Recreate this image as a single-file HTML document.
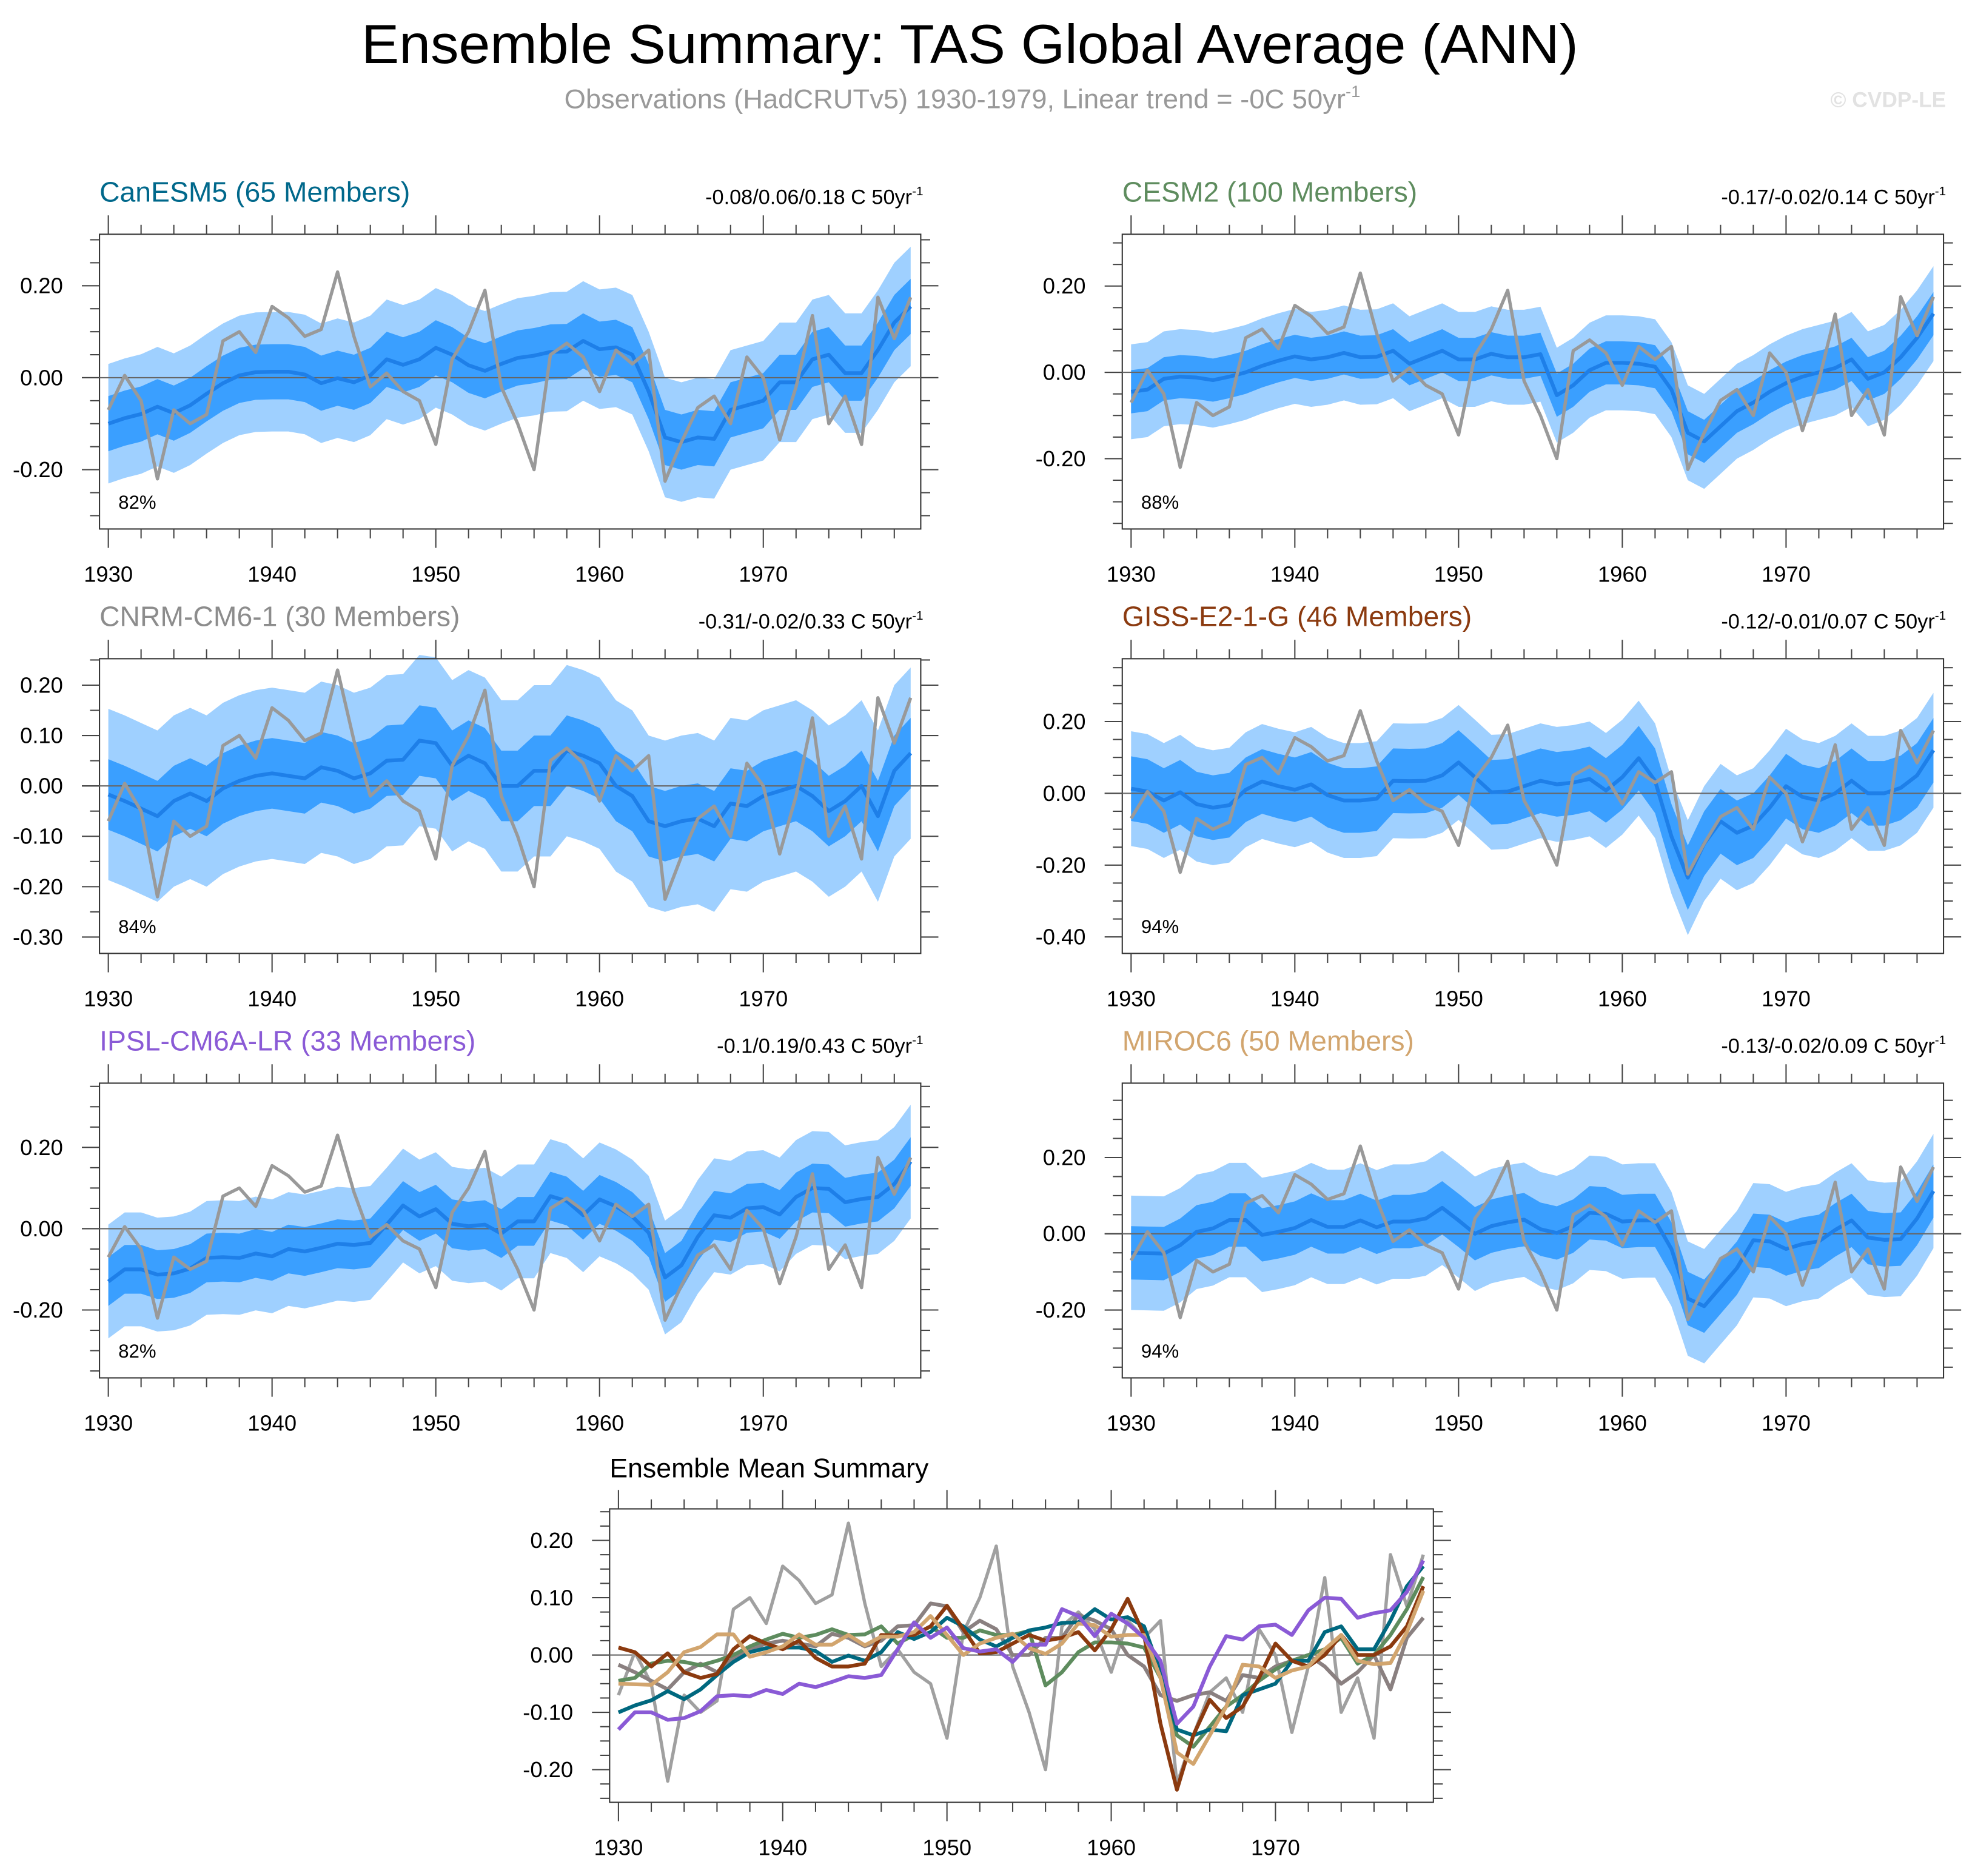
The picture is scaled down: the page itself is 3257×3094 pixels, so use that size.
<!DOCTYPE html>
<html><head><meta charset="utf-8"><title>Ensemble Summary: TAS Global Average (ANN)</title>
<style>html,body{margin:0;padding:0;background:#fff}svg{display:block}text{font-family:"Liberation Sans",sans-serif}</style>
</head><body>
<svg id="chart" xmlns="http://www.w3.org/2000/svg" width="3257" height="3094" viewBox="0 0 1568 1489.5" preserveAspectRatio="none">
<rect x="0" y="0" width="1568" height="1490" fill="#fff"/>
<text x="770" y="50" font-size="44" text-anchor="middle" textLength="966" lengthAdjust="spacingAndGlyphs">Ensemble Summary: TAS Global Average (ANN)</text>
<text x="448" y="86" font-size="21.5" fill="#999" textLength="632" lengthAdjust="spacingAndGlyphs">Observations (HadCRUTv5) 1930-1979, Linear trend = -0C 50yr<tspan font-size="13" dy="-9">-1</tspan></text>
<text x="1545" y="85" font-size="17" font-weight="bold" fill="#e2e2e2" text-anchor="end">© CVDP-LE</text>
</svg>
<script>
const years = [];
for (let y = 1930; y <= 1979; y++) years.push(y);
const obsValues = [-0.07,0.005,-0.05,-0.22,-0.07,-0.10,-0.08,0.08,0.10,0.055,0.155,0.13,0.09,0.105,0.23,0.09,-0.02,0.01,-0.03,-0.05,-0.145,0.04,0.10,0.19,-0.02,-0.10,-0.20,0.05,0.075,0.045,-0.03,0.06,0.03,0.06,-0.225,-0.14,-0.065,-0.04,-0.10,0.045,0.00,-0.135,-0.02,0.135,-0.10,-0.04,-0.145,0.175,0.085,0.175];
const modelNames = ["CanESM5","CESM2","CNRM-CM6-1","GISS-E2-1-G","IPSL-CM6A-LR","MIROC6"];
const memberCounts = [65,100,30,46,33,50];
const trendStrings = ["-0.08/0.06/0.18","-0.17/-0.02/0.14","-0.31/-0.02/0.33","-0.12/-0.01/0.07","-0.1/0.19/0.43","-0.13/-0.02/0.09"];
const percentLabels = ["82%","88%","84%","94%","82%","94%"];
const canesm5Mean = [-0.10,-0.088,-0.079,-0.063,-0.077,-0.06,-0.035,-0.012,0.005,0.012,0.013,0.013,0.007,-0.012,-0.001,-0.01,0.005,0.04,0.028,0.04,0.065,0.05,0.027,0.015,0.03,0.043,0.048,0.056,0.057,0.08,0.062,0.066,0.05,-0.03,-0.13,-0.14,-0.13,-0.133,-0.07,-0.06,-0.05,-0.01,-0.01,0.04,0.05,0.01,0.01,0.06,0.12,0.155];
const cesm2Mean = [-0.045,-0.04,-0.015,-0.01,-0.012,-0.018,-0.01,0.0,0.015,0.027,0.037,0.03,0.035,0.045,0.035,0.036,0.05,0.02,0.035,0.05,0.03,0.03,0.043,0.035,0.035,0.042,-0.053,-0.03,0.005,0.022,0.022,0.02,0.013,-0.04,-0.14,-0.16,-0.125,-0.09,-0.07,-0.045,-0.025,-0.01,0.0,0.01,0.03,-0.015,0.0,0.035,0.08,0.136];
const cnrmMean = [-0.017,-0.03,-0.045,-0.06,-0.03,-0.015,-0.03,-0.005,0.01,0.02,0.025,0.02,0.015,0.037,0.03,0.015,0.025,0.05,0.052,0.09,0.085,0.04,0.06,0.045,0.0,0.0,0.03,0.03,0.07,0.06,0.045,0.0,-0.02,-0.07,-0.08,-0.07,-0.065,-0.08,-0.035,-0.04,-0.02,-0.01,0.0,-0.02,-0.05,-0.03,0.0,-0.06,0.03,0.065];
const gissMean = [0.013,0.005,-0.02,0.003,-0.03,-0.04,-0.033,0.01,0.033,0.02,0.01,0.025,-0.005,-0.02,-0.02,-0.015,0.035,0.034,0.035,0.05,0.086,0.045,0.003,0.005,0.02,0.035,0.025,0.03,0.04,0.008,0.045,0.098,0.035,-0.12,-0.235,-0.14,-0.078,-0.11,-0.09,-0.04,0.02,-0.01,-0.02,0.0,0.035,0.0,0.0,0.015,0.05,0.12];
const ipslMean = [-0.13,-0.10,-0.10,-0.113,-0.11,-0.098,-0.072,-0.07,-0.072,-0.061,-0.068,-0.05,-0.056,-0.047,-0.037,-0.04,-0.035,0.01,0.057,0.03,0.048,0.012,0.006,0.01,-0.012,0.018,0.018,0.08,0.068,0.033,0.072,0.055,0.03,-0.01,-0.12,-0.09,-0.02,0.033,0.027,0.05,0.053,0.035,0.078,0.10,0.098,0.065,0.073,0.078,0.11,0.165];
const mirocMean = [-0.05,-0.051,-0.052,-0.03,0.005,0.014,0.036,0.036,-0.003,0.005,0.015,0.036,0.018,0.018,0.035,0.017,0.032,0.032,0.04,0.068,0.035,0.0,0.02,0.03,0.037,0.012,0.002,0.02,0.055,0.052,0.032,0.035,0.035,-0.04,-0.17,-0.19,-0.14,-0.09,-0.017,-0.02,-0.04,-0.027,-0.02,0.01,0.035,-0.01,-0.016,-0.014,0.04,0.112];
const innerSpread = [0.06,0.05,0.07,0.09,0.06,0.07];
const outerSpread = [0.13,0.11,0.17,0.16,0.14,0.15];
const yTickLabels = [["0.20","0.00","-0.20"],["0.20","0.00","-0.20"],["0.20","0.10","0.00","-0.10","-0.20","-0.30"],["0.20","0.00","-0.20","-0.40"],["0.20","0.00","-0.20"],["0.20","0.00","-0.20"]];
const summaryTickLabels = ["0.20","0.10","0.00","-0.10","-0.20"];
const xTickLabels = ["1930","1940","1950","1960","1970"];
const allMeans = [canesm5Mean,cesm2Mean,cnrmMean,gissMean,ipslMean,mirocMean];
const titleColors = ["#00688B","#5E8C5E","#8C8C8C","#8B3A0F","#8A5AD6","#D2A56E"];
const lineColors = ["#00687F","#5E8C5E","#8A8080","#8B3A0F","#8A5AD6","#D2A56E"];

// layout (not data)
const panels = [
 {x0:79,x1:731,y0:186,y1:420,vmin:-0.329,vmax:0.312,minor:0.05},
 {x0:891,x1:1543,y0:186,y1:420,vmin:-0.363,vmax:0.32,minor:0.05},
 {x0:79,x1:731,y0:523,y1:757,vmin:-0.3325,vmax:0.2525,minor:0.05},
 {x0:891,x1:1543,y0:523,y1:757,vmin:-0.446,vmax:0.375,minor:0.05},
 {x0:79,x1:731,y0:860,y1:1094,vmin:-0.367,vmax:0.358,minor:0.05},
 {x0:891,x1:1543,y0:860,y1:1094,vmin:-0.378,vmax:0.395,minor:0.05}
];
const summary = {x0:484,x1:1138,y0:1198,y1:1431,vmin:-0.257,vmax:0.255,minor:0.025};
const NS = "http://www.w3.org/2000/svg";
const svg = document.getElementById("chart");
function mk(tag, attrs, parent) {
  const e = document.createElementNS(NS, tag);
  for (const k in attrs) e.setAttribute(k, attrs[k]);
  (parent || svg).appendChild(e);
  return e;
}
function xScale(p, yr) { return p.x0 + 7 + (yr - 1930) * ((p.x1 - p.x0 - 15) / 49); }
function yScale(p, v) { return p.y1 - (v - p.vmin) / (p.vmax - p.vmin) * (p.y1 - p.y0); }
function linePath(p, vals) { return vals.map((v, i) => (i ? "L" : "M") + xScale(p, years[i]).toFixed(2) + " " + yScale(p, v).toFixed(2)).join(" "); }
function bandPath(p, lo, hi) {
  let d = hi.map((v, i) => (i ? "L" : "M") + xScale(p, years[i]).toFixed(2) + " " + yScale(p, v).toFixed(2)).join(" ");
  for (let i = lo.length - 1; i >= 0; i--) d += " L" + xScale(p, years[i]).toFixed(2) + " " + yScale(p, lo[i]).toFixed(2);
  return d + " Z";
}
function drawAxes(p, g, labels) {
  const frame = mk("rect", {x:p.x0, y:p.y0, width:p.x1-p.x0, height:p.y1-p.y0, fill:"none", stroke:"#333", "stroke-width":1}, g);
  
  
  const zero = mk("line", {x1:p.x0-14, x2:p.x1+14, y1:yScale(p,0), y2:yScale(p,0), stroke:"#666", "stroke-width":1}, g);
  
  
  for (let yr = 1930; yr <= 1978; yr += 2) {
    const x = xScale(p, yr), major = (yr % 10 === 0), L = major ? 15 : 7.5;
    mk("line", {x1:x, x2:x, y1:p.y0, y2:p.y0-L, stroke:"#444", "stroke-width":1}, g);
    mk("line", {x1:x, x2:x, y1:p.y1, y2:p.y1+L, stroke:"#444", "stroke-width":1}, g);
  }
  xTickLabels.forEach(s => {
    const t = mk("text", {x:xScale(p, +s), y:p.y1+42, "font-size":17.5, "text-anchor":"middle"}, g);
    t.textContent = s;
    
    
  });
  const n0 = Math.ceil(p.vmin / p.minor - 1e-6), n1 = Math.floor(p.vmax / p.minor + 1e-6);
  for (let n = n0; n <= n1; n++) {
    const v = n * p.minor, y = yScale(p, v);
    const major = labels.some(s => Math.abs(+s - v) < 1e-6), L = major ? 14 : 7.5;
    mk("line", {x1:p.x0, x2:p.x0-L, y1:y, y2:y, stroke:"#444", "stroke-width":1}, g);
    mk("line", {x1:p.x1, x2:p.x1+L, y1:y, y2:y, stroke:"#444", "stroke-width":1}, g);
  }
  labels.forEach(s => {
    const t = mk("text", {x:p.x0-29, y:yScale(p, +s)+6, "font-size":17.5, "text-anchor":"end"}, g);
    t.textContent = s;
    
    
  });
}
panels.forEach((p, m) => {
  const g = mk("g", {});
  
  
  const mean = allMeans[m];
  const oLo = mean.map(v => v - outerSpread[m]), oHi = mean.map(v => v + outerSpread[m]);
  const iLo = mean.map(v => v - innerSpread[m]), iHi = mean.map(v => v + innerSpread[m]);
  const ob = mk("path", {d:bandPath(p, oLo, oHi), fill:"#9FD0FF", stroke:"none"}, g);
  
  
  const ib = mk("path", {d:bandPath(p, iLo, iHi), fill:"#3A9FFF", stroke:"none"}, g);
  
  
  drawAxes(p, g, yTickLabels[m]);
  const ml = mk("path", {d:linePath(p, mean), fill:"none", stroke:"#1E7FE8", "stroke-width":3, "stroke-linejoin":"round"}, g);
  
  
  const obs = mk("path", {d:linePath(p, obsValues), fill:"none", stroke:"#999", "stroke-width":2.6, "stroke-linejoin":"round"}, g);
  
  
  const pc = mk("text", {x:p.x0+15, y:p.y1-16, "font-size":15}, g);
  pc.textContent = percentLabels[m];
  
  
  const tt = mk("text", {x:p.x0, y:p.y0-26, "font-size":22.3, fill:titleColors[m]}, g);
  tt.textContent = modelNames[m] + " (" + memberCounts[m] + " Members)";
  
  
  const rs = mk("text", {x:p.x1+2, y:p.y0-24, "font-size":16.5, "text-anchor":"end"}, g);
  rs.innerHTML = trendStrings[m] + ' C 50yr<tspan font-size="10" dy="-7">-1</tspan>';
  
  
});
const sg = mk("g", {});


drawAxes(summary, sg, summaryTickLabels);
const sobs = mk("path", {d:linePath(summary, obsValues), fill:"none", stroke:"#A0A0A0", "stroke-width":2.6, "stroke-linejoin":"round"}, sg);


[2,1,0,3,5,4].forEach(m => {
  const l = mk("path", {d:linePath(summary, allMeans[m]), fill:"none", stroke:lineColors[m], "stroke-width":3, "stroke-linejoin":"round"}, sg);
  
  
});
const st = mk("text", {x:484, y:1173, "font-size":21.5}, sg);
st.textContent = "Ensemble Mean Summary";


</script>
</body></html>
